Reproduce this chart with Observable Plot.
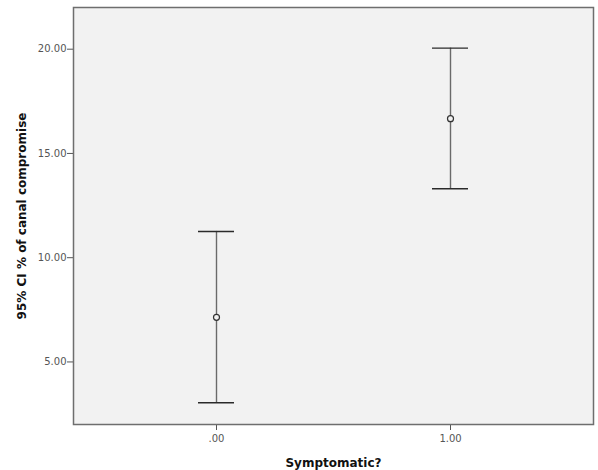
<!DOCTYPE html>
<html>
<head>
<meta charset="utf-8">
<script src="https://cdn.jsdelivr.net/npm/d3@7"></script>
<script src="https://cdn.jsdelivr.net/npm/@observablehq/plot@0.6"></script>
<style>
  html, body { margin: 0; padding: 0; background: #fff; }
</style>
</head>
<body>
<div id="chart"></div>
<script>
// Data
const groups = [".00", "1.00"];          // Symptomatic?
const means  = [7.14, 16.67];            // mean % canal compromise
const lower  = [3.04, 13.31];            // 95% CI lower bound
const upper  = [11.26, 20.05];           // 95% CI upper bound
const yTicks = [5, 10, 15, 20];

const data = groups.map((g, i) => ({g, mean: means[i], lo: lower[i], hi: upper[i]}));

const chart = Plot.plot({
  width: 598,
  height: 470,
  marginTop: 7,
  marginRight: 5,
  marginBottom: 46,
  marginLeft: 73,
  style: {fontFamily: "DejaVu Sans", background: "#fff"},
  x: {type: "band", domain: groups, paddingInner: 0.846, paddingOuter: 0.534},
  y: {domain: [2, 22]},
  marks: [
    Plot.frame({fill: "#f2f2f2", stroke: "none"}),
    Plot.axisY({ticks: yTicks, tickFormat: d3.format(".2f"), tickSize: 6, tickPadding: 1,
      fontSize: 10, stroke: "#555", color: "#555", label: null}),
    Plot.axisX({tickSize: 6, tickPadding: 4, fontSize: 10, stroke: "#555", color: "#555", label: null}),
    Plot.ruleX(data, {x: "g", y1: "lo", y2: "hi", stroke: "#6a6a6a", strokeWidth: 1.4}),
    Plot.tickY(data, {x: "g", y: "hi", stroke: "#2a2a2a", strokeWidth: 1.4}),
    Plot.tickY(data, {x: "g", y: "lo", stroke: "#2a2a2a", strokeWidth: 1.4}),
    Plot.dot(data, {x: "g", y: "mean", r: 3, stroke: "#333", fill: "#f2f2f2", strokeWidth: 1.2}),
    Plot.frame({stroke: "#6e6e6e", strokeWidth: 1.5}),
    Plot.text(["95% CI % of canal compromise"], {frameAnchor: "left", textAnchor: "middle", rotate: -90, dx: -51,
      fontWeight: "bold", fontSize: 12, fill: "#111"}),
    Plot.text(["Symptomatic?"], {frameAnchor: "bottom", dy: 42, fontWeight: "bold", fontSize: 12, fill: "#111"})
  ]
});
document.getElementById("chart").appendChild(chart);
</script>
</body>
</html>
